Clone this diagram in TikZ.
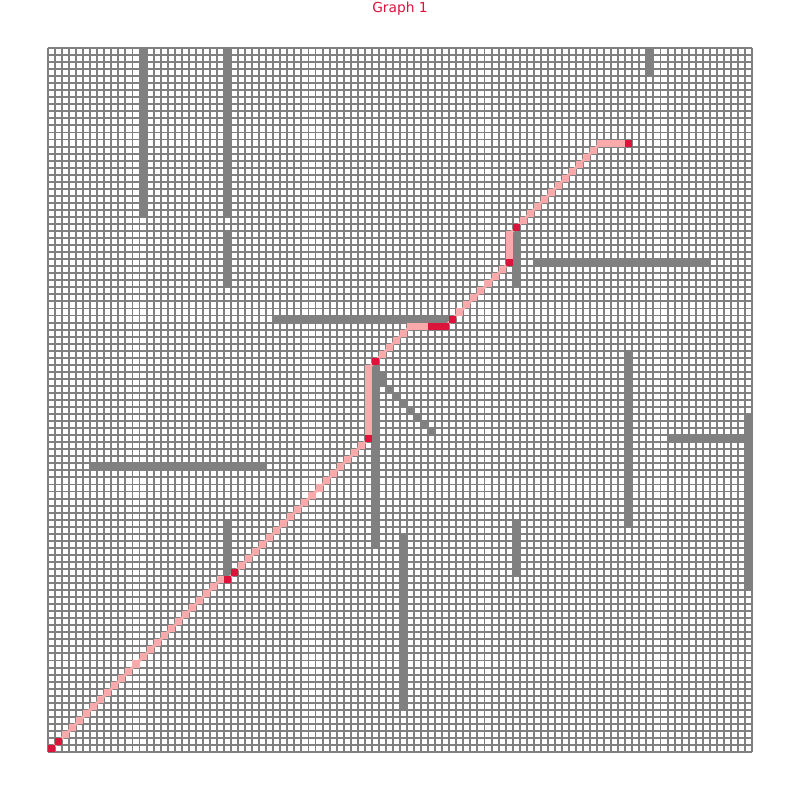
\documentclass[tikz,border=0pt]{standalone}
\usepackage{fontspec}
\newfontfamily\titlefont{DejaVu Sans}
\definecolor{wallgray}{RGB}{128,128,128}
\definecolor{trailpink}{RGB}{250,170,170}
\definecolor{stopred}{RGB}{220,20,60}
\begin{document}
\begin{tikzpicture}[x=0.7mm,y=-0.7mm,
  wall/.style={fill=wallgray},
  trail/.style={fill=trailpink},
  stop/.style={fill=stopred}]
  \fill[white] (-6.818,-6.818) rectangle (106.818,106.818);
  \useasboundingbox (-6.818,-6.818) rectangle (106.818,106.818);

  % title
  \node[font=\titlefont\fontsize{3.9}{4.7}\selectfont,text=stopred,anchor=base] (title) at (50,-5.1) {Graph 1};

  % grid of nodes (1 unit = one cell, rows counted downwards)
  \foreach \i in {0,...,100} {
    \draw[wallgray,line width=0.55pt] (\i,0) -- (\i,100);
    \draw[wallgray,line width=0.55pt] (0,\i) -- (100,\i);
  }

  % walls: vertical runs col/first row/last row
  \foreach \c/\a/\b in {13/0/23,25/0/23,25/26/33,85/0/3,66/26/33,46/45/70,
                        82/43/67,99/52/76,25/67/74,66/67/74,50/69/93}
    \fill[wall] (\c,\a) rectangle (\c+1,\b+1);
  % walls: horizontal runs row/first col/last col
  \foreach \r/\a/\b in {30/69/93,38/32/56,59/6/30,55/88/98}
    \fill[wall] (\a,\r) rectangle (\b+1,\r+1);
  % walls: slanted run
  \fill[wall] (47,46) rectangle ++(1,1);
  \foreach \k in {47,...,54}
    \fill[wall] (\k,\k) rectangle ++(1,1);

  % path
  \draw[trailpink,line width=0.8pt,line join=round]
    (0.5,99.5) -- (1.5,98.5) -- (24.5,75.5) -- (25.5,75.5) -- (26.5,74.5)
    -- (45.5,55.5) -- (45.5,45.5) -- (46.5,44.5) -- (51.5,39.5) -- (56.5,39.5)
    -- (57.5,38.5) -- (65.5,30.5) -- (65.5,26.5) -- (66.5,25.5) -- (78.5,13.5)
    -- (82.5,13.5);
  \foreach \c in {2,...,24}
    \fill[trail] (\c,99-\c) rectangle ++(1,1);
  \foreach \c in {27,...,44}
    \fill[trail] (\c,100-\c) rectangle ++(1,1);
  \foreach \r in {45,...,54}
    \fill[trail] (45,\r) rectangle ++(1,1);
  \foreach \c in {47,...,51}
    \fill[trail] (\c,90-\c) rectangle ++(1,1);
  \fill[trail] (52,39) rectangle (54,40);
  \foreach \c in {58,...,64}
    \fill[trail] (\c,95-\c) rectangle ++(1,1);
  \fill[trail] (65,26) rectangle (66,30);
  \foreach \c in {67,...,78}
    \fill[trail] (\c,91-\c) rectangle ++(1,1);
  \fill[trail] (79,13) rectangle (82,14);

  % path stops
  \foreach \c/\r in {0/99,1/98,25/75,26/74,45/55,46/44,54/39,55/39,56/39,
                     57/38,65/30,66/25,82/13}
    \fill[stop] (\c,\r) rectangle ++(1,1);
\end{tikzpicture}
\end{document}
